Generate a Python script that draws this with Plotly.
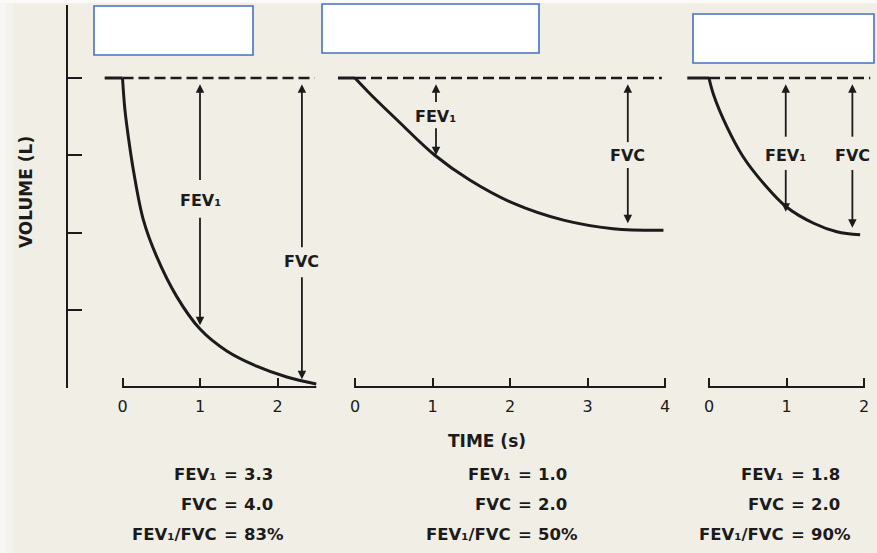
import plotly.graph_objects as go

# ---------------- data ----------------
# exhaled volume (L) against time (s) for the three spirograms
t_p1 = [0, 0.03, 0.075, 0.14, 0.27, 0.44, 0.70, 1.0, 1.34, 1.73, 2.12, 2.5]
v_p1 = [0, 0.40, 0.76, 1.19, 1.84, 2.31, 2.83, 3.25, 3.53, 3.73, 3.87, 3.96]
t_p2 = [0, 0.19, 0.54, 1.03, 1.48, 2.04, 2.69, 3.33, 3.98]
v_p2 = [0, 0.20, 0.54, 1.00, 1.32, 1.62, 1.84, 1.95, 1.97]
t_p3 = [0, 0.06, 0.23, 0.44, 0.70, 1.0, 1.35, 1.65, 1.95]
v_p3 = [0, 0.22, 0.63, 1.02, 1.36, 1.67, 1.88, 1.99, 2.03]

pre_start = [-0.23, -0.22, -0.28]      # flat solid start before t = 0
dash_end = [2.48, 3.96, 2.08]           # end of the dashed baseline (s)
time_end = [2.5, 4.0, 2.0]              # length of each time axis (s)
time_ticks = [[0, 1, 2], [0, 1, 2, 3, 4], [0, 1, 2]]
vol_ticks = [0, 1, 2, 3, 4]

fev1 = [3.3, 1.0, 1.8]
fvc = [4.0, 2.0, 2.0]
ratio = [83, 50, 90]

# arrows: (time, top tip, top-gap, label, bottom-gap, bottom tip) in s / L
fev_arrows = [(1.0, 0.08, 1.32, 1.58, 1.81, 3.20),
              (1.045, 0.08, 0.31, 0.50, 0.65, 1.00),
              (0.99, 0.08, 0.76, 1.00, 1.19, 1.73)]
fvc_arrows = [(2.315, 0.08, 2.19, 2.38, 2.58, 3.90),
              (3.52, 0.08, 0.83, 1.00, 1.165, 1.88),
              (1.85, 0.08, 0.76, 1.00, 1.19, 1.94)]

curves = [(t_p1, v_p1), (t_p2, v_p2), (t_p3, v_p3)]

# ---------------- layout constants ----------------
W, H = 877, 553
PX_S = 77.5           # px per second
PX_L = 77.25          # px per litre
ZERO_PY = 78          # pixel row of 0 L exhaled
panel_px = [(100, 320, 122.5), (333, 672, 355), (684, 876, 709)]  # lo, hi, t=0
Y_TOP, Y_BOT = 5, 388
AXIS_X = 67
INK = "#1b1b1b"
BG = "#F1EEE5"
FONT = "DejaVu Sans"
eq_px = [231, 525, 798]
line_py = [474, 504, 534]
HEAD_GAP = 0.05       # litres: line stops just inside the arrow head

fig = go.Figure()

axnames = ["x", "x2", "x3"]
for i, (tt, vv) in enumerate(curves):
    xa = axnames[i]
    # dashed baseline
    fig.add_trace(go.Scatter(x=[0, dash_end[i]], y=[0, 0], xaxis=xa, yaxis="y",
                             mode="lines", line=dict(color=INK, width=2.6, dash="11px,5px"),
                             hoverinfo="skip"))
    # flat solid lead-in
    fig.add_trace(go.Scatter(x=[pre_start[i], 0], y=[0, 0], xaxis=xa, yaxis="y",
                             mode="lines", line=dict(color=INK, width=3), hoverinfo="skip"))
    # curve
    fig.add_trace(go.Scatter(x=tt, y=vv, xaxis=xa, yaxis="y", mode="lines",
                             line=dict(color=INK, width=3, shape="spline", smoothing=1.0),
                             hoverinfo="skip"))
    # time-axis baseline
    fig.add_trace(go.Scatter(x=[0, time_end[i]], y=[vol_ticks[-1]] * 2, xaxis=xa, yaxis="y",
                             mode="lines", line=dict(color=INK, width=2), hoverinfo="skip"))
    # double-headed measurement arrows (FEV1 and FVC)
    for arr in (fev_arrows[i], fvc_arrows[i]):
        t, top, g1, lv, g2, bot = arr
        fig.add_trace(go.Scatter(x=[t, t, None, t, t],
                                 y=[top + HEAD_GAP, g1, None, g2, bot - HEAD_GAP],
                                 xaxis=xa, yaxis="y", mode="lines",
                                 line=dict(color=INK, width=1.8), hoverinfo="skip"))
        fig.add_trace(go.Scatter(x=[t, t], y=[top, bot], xaxis=xa, yaxis="y", mode="markers",
                                 marker=dict(symbol=["arrow-up", "arrow-down"], size=8.5,
                                             color=INK, line=dict(width=0)),
                                 hoverinfo="skip"))

annotations = []
lab_font = dict(family=FONT, size=16, color=INK, weight="bold")
sum_font = dict(family=FONT, size=16.5, color=INK, weight="bold")
for i in range(3):
    xa = axnames[i]
    for arr, lab in ((fev_arrows[i], "FEV₁"), (fvc_arrows[i], "FVC")):
        t, top, g1, lv, g2, bot = arr
        annotations.append(dict(x=t, y=lv, xref=xa, yref="y", text=lab, showarrow=False,
                                font=lab_font, xanchor="center", yanchor="middle"))
    # summary lines
    rows = [("FEV₁", f"{fev1[i]:.1f}"),
            ("FVC", f"{fvc[i]:.1f}"),
            ("FEV₁/FVC", f"{ratio[i]}%")]
    for r, (lab, val) in enumerate(rows):
        yp = 1 - line_py[r] / H
        xp = eq_px[i] / W
        annotations.append(dict(x=xp, y=yp, xref="paper", yref="paper", text=lab, showarrow=False,
                                xanchor="right", yanchor="middle", xshift=-12, font=sum_font))
        annotations.append(dict(x=xp, y=yp, xref="paper", yref="paper", text="=", showarrow=False,
                                xanchor="center", yanchor="middle", font=sum_font))
        annotations.append(dict(x=xp, y=yp, xref="paper", yref="paper", text=val, showarrow=False,
                                xanchor="left", yanchor="middle", xshift=11, font=sum_font))

title_font = dict(family=FONT, size=17, color=INK, weight="bold")
annotations.append(dict(x=26 / W, y=1 - 192 / H, xref="paper", yref="paper", text="VOLUME (L)",
                        textangle=-90, showarrow=False, xanchor="center", yanchor="middle",
                        font=title_font))
annotations.append(dict(x=487 / W, y=1 - 441 / H, xref="paper", yref="paper", text="TIME (s)",
                        showarrow=False, xanchor="center", yanchor="middle", font=title_font))

shapes = [
    # slightly lighter scan edge at the left and top of the page
    dict(type="rect", xref="paper", yref="paper", x0=0, x1=6 / W, y0=0, y1=1,
         fillcolor="#F7F6F2", line=dict(width=0), layer="below"),
    dict(type="rect", xref="paper", yref="paper", x0=6 / W, x1=13 / W, y0=0, y1=1,
         fillcolor="#F4F2EC", line=dict(width=0), layer="below"),
    dict(type="rect", xref="paper", yref="paper", x0=0, x1=1, y0=1 - 3 / H, y1=1,
         fillcolor="#FAFAF8", line=dict(width=0), layer="below"),
]
for (x0, y0, x1, y1) in [(94, 6, 253, 55), (322, 4, 539, 53), (693, 14, 874, 63)]:
    shapes.append(dict(type="rect", xref="paper", yref="paper", x0=x0 / W, x1=x1 / W,
                       y0=1 - y1 / H, y1=1 - y0 / H, fillcolor="white",
                       line=dict(color="#4472C4", width=1.6), layer="above"))

layout = dict(width=W, height=H, margin=dict(l=0, r=0, t=0, b=0), paper_bgcolor=BG,
              plot_bgcolor="rgba(0,0,0,0)", showlegend=False, annotations=annotations, shapes=shapes)

for i, (lo, hi, org) in enumerate(panel_px):
    key = "xaxis" if i == 0 else f"xaxis{i + 1}"
    layout[key] = dict(domain=[lo / W, hi / W], range=[(lo - org) / PX_S, (hi - org) / PX_S],
                       anchor="free", position=1 - 387.5 / H, showline=False, showgrid=False,
                       zeroline=False, ticks="inside", ticklen=10, tickwidth=2, tickcolor=INK,
                       tickvals=time_ticks[i], ticktext=[str(v) for v in time_ticks[i]],
                       tickfont=dict(family=FONT, size=16, color=INK), ticklabelstandoff=7,
                       fixedrange=True)

layout["yaxis"] = dict(domain=[1 - Y_BOT / H, 1 - Y_TOP / H],
                       range=[(Y_BOT - ZERO_PY) / PX_L, (Y_TOP - ZERO_PY) / PX_L],
                       anchor="free", position=AXIS_X / W, showline=True, linewidth=2, linecolor=INK,
                       ticks="inside", ticklen=14, tickwidth=2, tickcolor=INK, tickvals=vol_ticks,
                       showticklabels=False, showgrid=False, zeroline=False, fixedrange=True)

fig.update_layout(**layout)
fig.write_html("out.html", config={"displayModeBar": False},
               post_script="document.body.style.margin='0px';document.body.style.overflow='hidden';")
